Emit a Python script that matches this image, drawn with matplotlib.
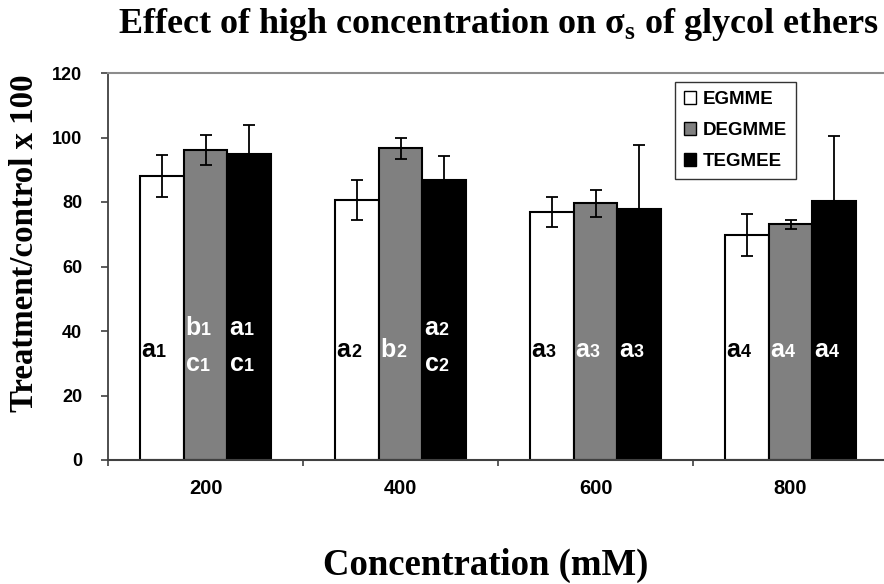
import matplotlib
matplotlib.use("Agg")
import matplotlib.pyplot as plt
import numpy as np

plt.rcParams["mathtext.fontset"] = "custom"
plt.rcParams["mathtext.bf"] = "Liberation Serif:bold"
plt.rcParams["mathtext.rm"] = "Liberation Serif:bold"

# Data
concentrations = ["200", "400", "600", "800"]
series_names = ["EGMME", "DEGMME", "TEGMEE"]
egmme = [88.2, 80.5, 76.8, 69.8]
egmme_err = [6.5, 6.2, 4.6, 6.6]
degmme = [96.2, 96.7, 79.6, 73.1]
degmme_err = [4.7, 3.3, 4.2, 1.4]
tegmee = [94.8, 86.8, 77.7, 80.2]
tegmee_err = [9.0, 7.6, 20.0, 20.3]

# Significance letters (letter + index) for each bar
egmme_letters = [["a1"], ["a2"], ["a3"], ["a4"]]
degmme_letters = [["b1", "c1"], ["b2"], ["a3"], ["a4"]]
tegmee_letters = [["a1", "c1"], ["a2", "c2"], ["a3"], ["a4"]]

y_ticks = [0, 20, 40, 60, 80, 100, 120]

W, H = 884, 584
fig = plt.figure(figsize=(W / 100, H / 100), dpi=100)
ax = fig.add_axes([108 / W, 1 - 460 / H, 780 / W, 387 / H])

x = np.arange(len(concentrations))
bw = 0.2256
fills = ["white", "#808080", "black"]
text_colors = ["black", "white", "white"]
values = [egmme, degmme, tegmee]
errors = [egmme_err, degmme_err, tegmee_err]
letters = [egmme_letters, degmme_letters, tegmee_letters]

sans = "Liberation Sans"
serif = "Liberation Serif"

for i, (vals, errs, fc) in enumerate(zip(values, errors, fills)):
    pos = x + (i - 1) * bw
    ax.bar(pos, vals, width=bw, color=fc, edgecolor="black", linewidth=1.5,
           label=series_names[i], zorder=2)
    ax.errorbar(pos, vals, yerr=errs, fmt="none", ecolor="black",
                elinewidth=1.3, capsize=4.6, capthick=1.3, zorder=3)

# Letter annotations inside the bars: a large letter followed by a small index
single_base = 32.0
double_base = [38.8, 27.7]
for i, (labs, tc) in enumerate(zip(letters, text_colors)):
    pos = x + (i - 1) * bw
    for xp, group in zip(pos, labs):
        bases = [single_base] if len(group) == 1 else double_base
        for lab, yb in zip(group, bases):
            letter = ax.annotate(lab[0], xy=(xp - bw / 2, yb), xycoords="data",
                                 xytext=(1.5, 0), textcoords="offset points",
                                 ha="left", va="baseline", fontsize=18,
                                 fontfamily=sans, fontweight="bold",
                                 color=tc, zorder=4)
            ax.annotate(lab[1:], xy=(1, yb), xycoords=(letter, "data"),
                        xytext=(0.3, 0), textcoords="offset points",
                        ha="left", va="baseline", fontsize=13,
                        fontfamily=sans, fontweight="bold",
                        color=tc, zorder=4)

ax.set_xlim(-0.5, 3.5)
ax.set_ylim(0, 120)

tick_font = {"family": sans, "weight": "bold"}

# Category boundaries carry the tick marks, labels sit at the centers
ax.set_xticks(np.arange(-0.5, 4.0, 1.0))
ax.set_xticklabels([])
ax.set_xticks(x, minor=True)
ax.set_xticklabels(concentrations, minor=True, fontsize=14.5, **tick_font)
ax.tick_params(axis="x", which="major", direction="out", length=4,
               width=1.2, color="#404040")
ax.tick_params(axis="x", which="minor", length=0, pad=14)

ax.set_yticks(y_ticks)
ax.set_yticklabels([str(v) for v in y_ticks], fontsize=13, **tick_font)
ax.tick_params(axis="y", direction="out", length=5, width=1.2,
               color="#404040", pad=13.5)

ax.spines["right"].set_visible(False)
ax.spines["left"].set_color("#404040")
ax.spines["left"].set_linewidth(1.3)
ax.spines["bottom"].set_color("#404040")
ax.spines["bottom"].set_linewidth(1.5)
ax.spines["top"].set_color("#8c8c8c")
ax.spines["top"].set_linewidth(1.5)

leg = ax.legend(loc="upper left", bbox_to_anchor=(675 / W, 1 - 82 / H),
                bbox_transform=fig.transFigure, borderaxespad=0,
                frameon=True, fancybox=False, shadow=False,
                prop={"family": sans, "weight": "bold", "size": 13.5},
                handlelength=0.65, handleheight=0.65, handletextpad=0.35,
                labelspacing=0.75, borderpad=0.48)
leg.get_frame().set_edgecolor("black")
leg.get_frame().set_linewidth(1.0)
for h in leg.legend_handles:
    h.set_linewidth(1.0)

fig.text(498 / W, 1 - 33 / H,
         r"Effect of high concentration on $\mathbf{σ}_\mathbf{s}$ of glycol ethers",
         ha="center", va="baseline", fontsize=26, fontfamily=serif,
         fontweight="bold")
fig.text(25 / W, 1 - 243 / H, "Treatment/control x 100", rotation=90,
         ha="center", va="center", fontsize=23.7, fontfamily=serif,
         fontweight="bold")
fig.text(486 / W, 1 - 575 / H, "Concentration (mM)", ha="center",
         va="baseline", fontsize=26.5, fontfamily=serif, fontweight="bold")

fig.savefig("out.png", dpi=100)
